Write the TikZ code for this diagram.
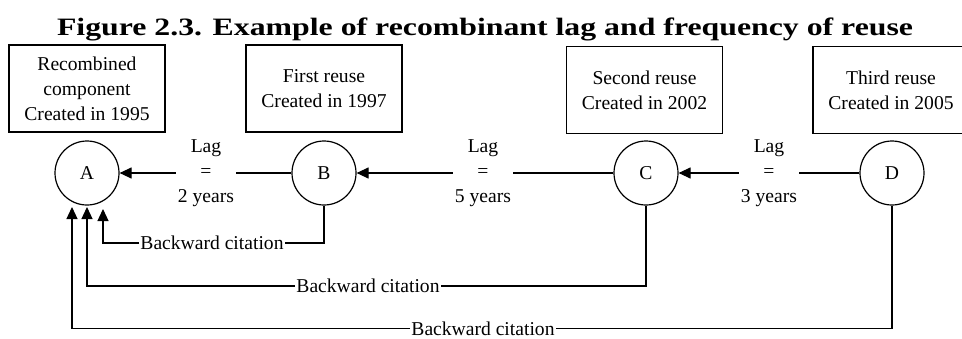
\documentclass[tikz,border=0pt]{standalone}
\usepackage{fontspec}
\setmainfont{Liberation Serif}
\usetikzlibrary{arrows.meta}
\begin{document}
\begin{tikzpicture}[x=1pt,y=-1pt,
  every node/.style={font=\fontsize{19.6}{25}\selectfont},
  infobox/.style={draw, line width=1.2pt, minimum width=156pt, minimum height=87pt, align=center, inner sep=0pt},
  entity/.style={draw, circle, line width=1.2pt, minimum size=64pt, inner sep=0pt},
  laglabel/.style={align=center, inner sep=2pt},
  citelabel/.style={inner sep=1pt},
  conn/.style={line width=1.2pt},
  arr/.style={conn, -{Triangle[length=12pt,width=11pt]}}
]
\useasboundingbox (0,0) rectangle (962,338);
\node[font=\fontsize{25}{30}\selectfont\bfseries, anchor=base, inner sep=0pt] (title) at (485,35)
  {\resizebox{856pt}{\height}{Figure 2.3. Example of recombinant lag and frequency of reuse}};

\node[infobox] (boxA) at (87,88.5) {Recombined\\component\\Created in 1995};
\node[infobox] (boxB) at (324,88.5) {First reuse\\Created in 1997};
\node[infobox] (boxC) at (644.5,90) {Second reuse\\Created in 2002};
\node[infobox] (boxD) at (891,90) {Third reuse\\Created in 2005};

\node[entity] (A) at (87,173) {A};
\node[entity] (B) at (324,173) {B};
\node[entity] (C) at (646,173) {C};
\node[entity] (D) at (892,173) {D};

\node[laglabel] (lag1) at (206,173) {Lag\\=\\2 years};
\node[laglabel] (lag2) at (483,173) {Lag\\=\\5 years};
\node[laglabel] (lag3) at (769,173) {Lag\\=\\3 years};

\draw[conn] (B) -- (lag1);
\draw[arr] (lag1) -- (A);
\draw[conn] (C) -- (lag2);
\draw[arr] (lag2) -- (B);
\draw[conn] (D) -- (lag3);
\draw[arr] (lag3) -- (C);

\coordinate (t1) at (103,209);
\coordinate (t2) at (87,207);
\coordinate (t3) at (72,207);

\node[citelabel] (bc1) at (212,243) {Backward citation};
\node[citelabel] (bc2) at (368,286) {Backward citation};
\node[citelabel] (bc3) at (483,328.5) {Backward citation};

\draw[conn] (B.south) |- (bc1);
\draw[arr] (bc1) -| (t1);
\draw[conn] (C.south) |- (bc2);
\draw[arr] (bc2) -| (t2);
\draw[conn] (D.south) |- (bc3);
\draw[arr] (bc3) -| (t3);
\end{tikzpicture}
\end{document}
